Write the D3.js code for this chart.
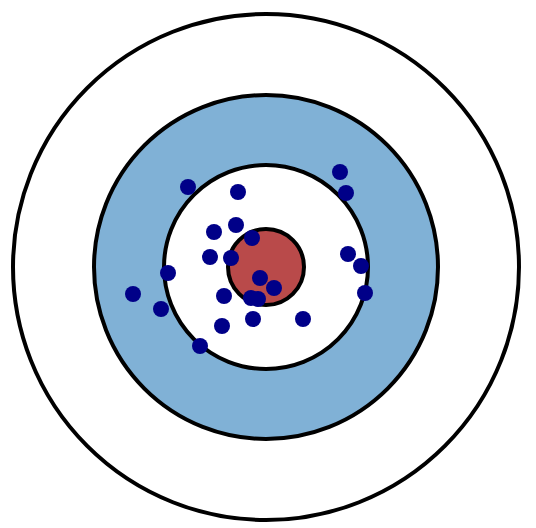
<!DOCTYPE html>
<html><head><meta charset="utf-8">
<script src="https://cdn.jsdelivr.net/npm/d3@7/dist/d3.min.js"></script>
<style>html,body{margin:0;padding:0;background:#fff;}svg{display:block;}</style>
</head><body>
<script>
// Ring radii (data units) and fills, outermost first
const ringRadii = [253, 172, 102, 38];
const ringFills = ["#ffffff", "#80b1d6", "#ffffff", "#b94a4a"];
// Shot positions relative to the target centre (data units, y downward)
const shotX = [-78,-28,74,80,-30,-52,-14,-56,-35,82,95,-98,-6,8,-133,-42,-15,-8,99,-105,-13,37,-44,-66];
const shotY = [-80,-75,-95,-74,-42,-35,-29,-10,-9,-13,-1,6,11,21,27,29,31,32,26,42,52,52,59,79];

const W = 536, H = 528, cx = 266, cy = 267;
const sx = d3.scaleLinear().domain([-cx, W - cx]).range([0, W]);
const sy = d3.scaleLinear().domain([-cy, H - cy]).range([0, H]);
const sr = d3.scaleLinear().domain([0, 100]).range([0, 100]);

const svg = d3.select("body").append("svg").attr("width", W).attr("height", H);
svg.selectAll("circle.ring").data(ringRadii).join("circle")
  .attr("class", "ring")
  .attr("cx", sx(0)).attr("cy", sy(0))
  .attr("r", d => sr(d))
  .attr("fill", (d, i) => ringFills[i])
  .attr("stroke", "#000").attr("stroke-width", 4);

svg.selectAll("circle.shot").data(shotX.map((x, i) => [x, shotY[i]])).join("circle")
  .attr("class", "shot")
  .attr("cx", d => sx(d[0])).attr("cy", d => sy(d[1]))
  .attr("r", 8)
  .attr("fill", "#000088");
</script>
</body></html>
